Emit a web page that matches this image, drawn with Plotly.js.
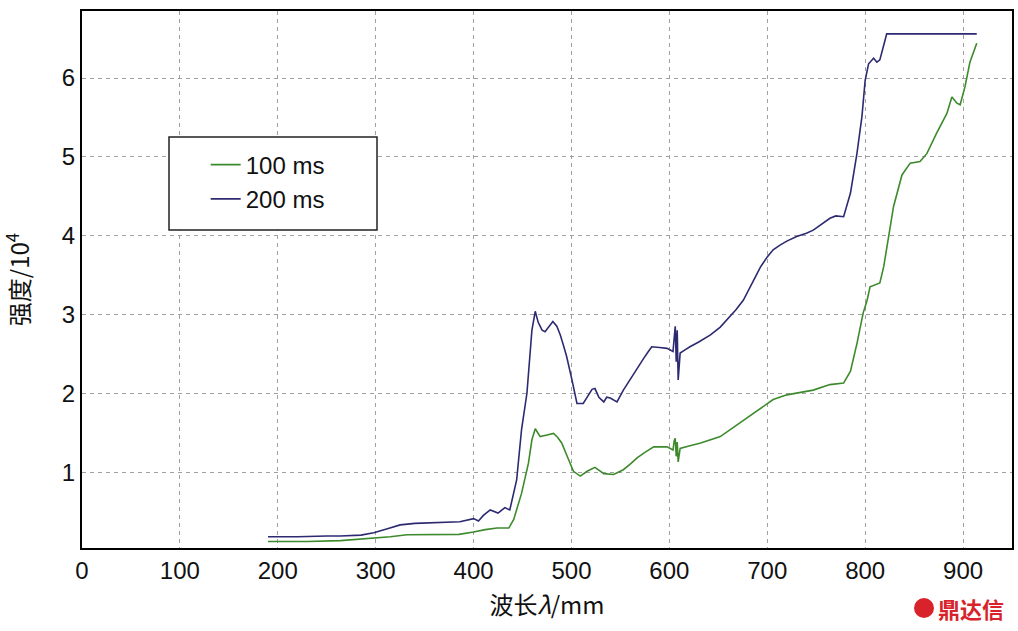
<!DOCTYPE html>
<html><head><meta charset="utf-8">
<script src="https://cdn.plot.ly/plotly-3.0.1.min.js"></script>
<style>body{margin:0;background:#fff}#c{width:1018px;height:631px}</style>
</head><body><div id="c"></div>
<script>
const seriesNames = ["100 ms", "200 ms"];
const xTicks = [0,100,200,300,400,500,600,700,800,900];
const yTicks = [1,2,3,4,5,6];

const wl200 = [190,220,250,264,285,298,312,325,340,356,370,386,400,405,410,417,425,432,437,444,449,454.5,459.6,463,466,470,473,477,481,485,488.6,492,495,500.5,505.6,512,517,521,524,528,533,536,539.6,543,546.5,553,558,563.5,568,573.6,578,582,590,597.6,603.7,605,606,607,608,609,611,616,621,630,642,652,662,668,675.5,686,693,700,706,713,720,730,740,747,755,764,770,778,785,791.6,796.7,800,803.5,808.6,812,815,819.5,822,914];
const int200 = [0.18,0.18,0.19,0.19,0.2,0.23,0.28,0.33,0.35,0.36,0.36,0.37,0.41,0.38,0.45,0.52,0.48,0.55,0.52,0.90,1.54,2.0,2.8,3.04,2.9,2.8,2.78,2.85,2.91,2.85,2.74,2.6,2.47,2.17,1.87,1.87,1.98,2.05,2.06,1.95,1.89,1.95,1.94,1.92,1.89,2.04,2.14,2.25,2.33,2.44,2.52,2.59,2.58,2.57,2.53,2.8,2.85,2.4,2.8,2.17,2.51,2.55,2.59,2.65,2.74,2.84,2.97,3.06,3.18,3.44,3.6,3.73,3.82,3.88,3.93,3.99,4.03,4.07,4.14,4.22,4.25,4.24,4.54,5.04,5.51,5.97,6.18,6.25,6.2,6.23,6.44,6.56,6.56];

const wl100 = [190,230,264,298,315,332,366,385,400,412,424,436,441,449,456,459.6,463,468,475,481.7,486,490,497,502,509,516,524,528,533,543,553,560,567,575,584,597.6,603.7,605,606,607,608,609,611,620,632,652,672,689.5,706,720,735,747,764,778,785,791.6,798,802,805,810,815,819,824,829,837.6,846,856,863,873,883.5,888.6,893.8,897,902,907,914];
const int100 = [0.12,0.12,0.13,0.16,0.18,0.205,0.205,0.21,0.24,0.27,0.29,0.29,0.40,0.73,1.11,1.41,1.55,1.45,1.47,1.49,1.44,1.37,1.16,1.01,0.95,1.01,1.06,1.02,0.98,0.97,1.03,1.1,1.18,1.25,1.32,1.32,1.28,1.4,1.43,1.2,1.38,1.13,1.30,1.33,1.37,1.45,1.62,1.77,1.92,1.98,2.01,2.04,2.11,2.13,2.28,2.63,3.02,3.18,3.35,3.38,3.40,3.61,4.0,4.37,4.77,4.92,4.94,5.04,5.30,5.55,5.76,5.68,5.66,5.89,6.20,6.44];

const txtFont = {family:'Liberation Sans, Arial, sans-serif', size:24, color:'#111'};
const traces = [
  {x:wl100, y:int100, name:seriesNames[0], mode:'lines', line:{color:'#3d8a2c', width:1.6}},
  {x:wl200, y:int200, name:seriesNames[1], mode:'lines', line:{color:'#2c2a70', width:1.6}}
];
const axisCommon = {showline:true, linecolor:'#000', linewidth:2, mirror:true, ticks:'', zeroline:false,
  showgrid:true, gridcolor:'#a0a0a0', gridwidth:1, griddash:'4px,4px', tickfont:txtFont};
const layout = {
  width:1018, height:631, margin:{l:82, r:6, t:11, b:83},
  paper_bgcolor:'#fff', plot_bgcolor:'#fff', showlegend:true,
  xaxis:Object.assign({}, axisCommon, {range:[0,950], tickvals:xTicks, ticktext:xTicks.map(String),
    title:{text:'波长<i>λ</i>/mm', font:{family:'Noto Sans CJK SC, Liberation Sans, sans-serif', size:24, color:'#111'}, standoff:14}}),
  yaxis:Object.assign({}, axisCommon, {range:[0.037,6.85], tickvals:yTicks, ticktext:yTicks.map(String),
    title:{text:'强度/10<sup>4</sup>', font:{family:'Noto Sans CJK SC, Liberation Sans, sans-serif', size:24, color:'#111'}, standoff:26}}),
  legend:{x:0.133, y:0.755, xanchor:'left', yanchor:'top', bgcolor:'rgba(0,0,0,0)', borderwidth:0,
    font:{family:'Liberation Sans, Arial, sans-serif', size:24, color:'#111'}},
  shapes:[
    {type:'rect', xref:'paper', yref:'paper', x0:(169-82)/930, x1:(377-82)/930, y0:(548-230)/537, y1:(548-137)/537,
     line:{color:'#222', width:1.5}, fillcolor:'#fff', layer:'above'},
    {type:'circle', xref:'paper', yref:'paper', x0:(914-82)/930, x1:(934-82)/930, y0:(548-618)/537, y1:(548-598)/537,
     line:{color:'#d8232a', width:0}, fillcolor:'#d8232a'}
  ],
  annotations:[
    {xref:'paper', yref:'paper', x:(936-82)/930, y:(548-608)/537, xanchor:'left', yanchor:'middle', showarrow:false,
     text:'<b>鼎达信</b>', font:{family:'Noto Sans CJK SC, sans-serif', size:22, color:'#d8232a'}}
  ]
};
Plotly.newPlot('c', traces, layout, {displayModeBar:false, staticPlot:true});
</script></body></html>
